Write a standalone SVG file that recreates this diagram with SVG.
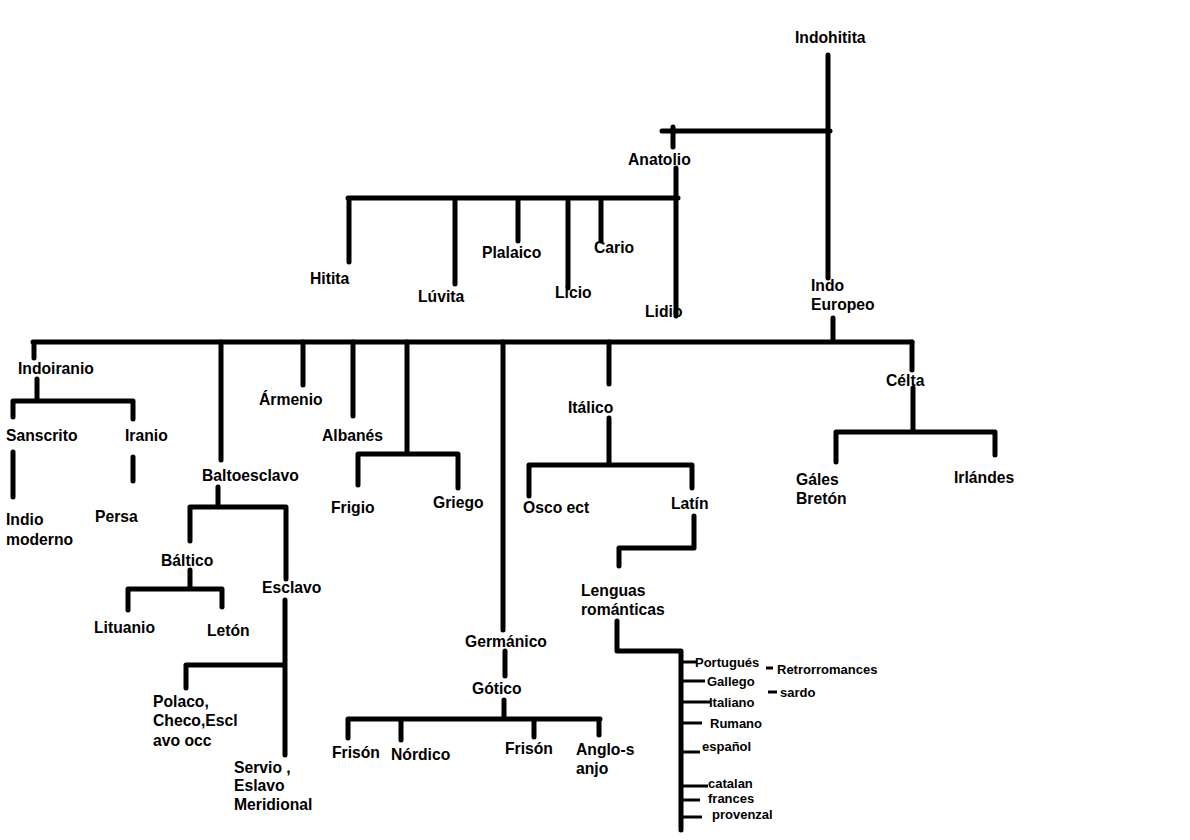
<svg xmlns="http://www.w3.org/2000/svg" width="1190" height="840" viewBox="0 0 1190 840">
<style>
.t{font-family:"Liberation Sans",Arial,sans-serif;font-size:15.7px;font-weight:bold;fill:#000}
.s{font-size:13px}
.c{stroke:#000;stroke-width:5;stroke-linecap:round;fill:none}
.k{stroke:#000;stroke-width:3;fill:none}
</style>
<rect width="1190" height="840" fill="#fff"/>
<g id="connectors">
<path class="c" d="M828 55V278M662 131H830M673 127V147M676 168V316M348 198H678M349 198V262M455 198V284M518 198V241M568 198V288M601 198V241"/>
<path class="c" d="M833 318V342M33 342H912M34 342V358M37 379V401M13 401H133M13 401V417M133 401V419M13 452V497M133 457V481"/>
<path class="c" d="M221 342V460M218 487V507M190 507H286M190 507V541M286 507V579M190 570V589M128 589H222M128 589V610M222 589V607M285 600V755M186 665H285M186 665V688"/>
<path class="c" d="M303 342V385M353 342V416M407 342V454M358 454H458M358 454V485M458 454V488"/>
<path class="c" d="M503 342V630M505 651V676M504 700V718M348 719H600M348 719V738M401 719V740M534 719V737M599 719V735"/>
<path class="c" d="M609 342V384M609 418V465M529 465H691M529 465V496M692 465V488M694 516V548M619 548H694M619 548V566M617 621V651M617 651H681M681 651V830"/>
<path class="k" d="M681 662H697M681 681H705M681 702H710M681 723H702M681 752H700M681 786H708M681 800H700M681 817H702M766 668H773M768 692H777"/>
<path class="c" d="M912 342V370M913 388V431M836 432H995M836 432V462M995 432V455"/>
</g>
<g id="n-indohitita"><text class="t" x="795" y="43">Indohitita</text></g>
<g id="n-anatolio"><text class="t" x="628" y="165">Anatolio</text></g>
<g id="n-hitita"><text class="t" x="310" y="284">Hitita</text></g>
<g id="n-luvita"><text class="t" x="418" y="302">Lúvita</text></g>
<g id="n-plalaico"><text class="t" x="482" y="258">Plalaico</text></g>
<g id="n-licio"><text class="t" x="555" y="298">Licio</text></g>
<g id="n-cario"><text class="t" x="594" y="253">Cario</text></g>
<g id="n-lidio"><text class="t" x="645" y="317">Lidio</text></g>
<g id="n-indoeuropeo"><text class="t" x="811" y="291">Indo</text><text class="t" x="811" y="310">Europeo</text></g>
<g id="n-indoiranio"><text class="t" x="18" y="374">Indoiranio</text></g>
<g id="n-sanscrito"><text class="t" x="6" y="441">Sanscrito</text></g>
<g id="n-iranio"><text class="t" x="125" y="441">Iranio</text></g>
<g id="n-indio"><text class="t" x="6" y="525">Indio</text><text class="t" x="6" y="545">moderno</text></g>
<g id="n-persa"><text class="t" x="95" y="522">Persa</text></g>
<g id="n-armenio"><text class="t" x="259" y="405">Ármenio</text></g>
<g id="n-albanes"><text class="t" x="322" y="441">Albanés</text></g>
<g id="n-baltoesclavo"><text class="t" x="202" y="481">Baltoesclavo</text></g>
<g id="n-frigio"><text class="t" x="331" y="513">Frigio</text></g>
<g id="n-griego"><text class="t" x="433" y="508">Griego</text></g>
<g id="n-baltico"><text class="t" x="161" y="566">Báltico</text></g>
<g id="n-esclavo"><text class="t" x="262" y="593">Esclavo</text></g>
<g id="n-lituanio"><text class="t" x="94" y="633">Lituanio</text></g>
<g id="n-leton"><text class="t" x="207" y="636">Letón</text></g>
<g id="n-polaco"><text class="t" x="153" y="707">Polaco,</text><text class="t" x="153" y="726">Checo,Escl</text><text class="t" x="153" y="746">avo occ</text></g>
<g id="n-servio"><text class="t" x="234" y="773">Servio ,</text><text class="t" x="234" y="791">Eslavo</text><text class="t" x="234" y="810">Meridional</text></g>
<g id="n-germanico"><text class="t" x="465" y="647">Germánico</text></g>
<g id="n-gotico"><text class="t" x="472" y="694">Gótico</text></g>
<g id="n-frison1"><text class="t" x="332" y="758">Frisón</text></g>
<g id="n-nordico"><text class="t" x="391" y="760">Nórdico</text></g>
<g id="n-frison2"><text class="t" x="505" y="754">Frisón</text></g>
<g id="n-anglosajon"><text class="t" x="576" y="755">Anglo-s</text><text class="t" x="576" y="774">anjo</text></g>
<g id="n-italico"><text class="t" x="568" y="413">Itálico</text></g>
<g id="n-celta"><text class="t" x="886" y="386">Célta</text></g>
<g id="n-osco"><text class="t" x="523" y="513">Osco ect</text></g>
<g id="n-latin"><text class="t" x="671" y="509">Latín</text></g>
<g id="n-gales"><text class="t" x="796" y="485">Gáles</text><text class="t" x="796" y="504">Bretón</text></g>
<g id="n-irlandes"><text class="t" x="954" y="483">Irlándes</text></g>
<g id="n-romanicas"><text class="t" x="581" y="596">Lenguas</text><text class="t" x="581" y="615">románticas</text></g>
<g id="n-portugues"><text class="t s" x="695" y="667">Portugués</text></g>
<g id="n-retrorromances"><text class="t s" x="777" y="674">Retrorromances</text></g>
<g id="n-gallego"><text class="t s" x="707" y="686">Gallego</text></g>
<g id="n-sardo"><text class="t s" x="780" y="697">sardo</text></g>
<g id="n-italiano"><text class="t s" x="709" y="707">Italiano</text></g>
<g id="n-rumano"><text class="t s" x="710" y="728">Rumano</text></g>
<g id="n-espanol"><text class="t s" x="702" y="751">español</text></g>
<g id="n-catalan"><text class="t s" x="708" y="788">catalan</text></g>
<g id="n-frances"><text class="t s" x="708" y="803">frances</text></g>
<g id="n-provenzal"><text class="t s" x="712" y="819">provenzal</text></g>
</svg>
